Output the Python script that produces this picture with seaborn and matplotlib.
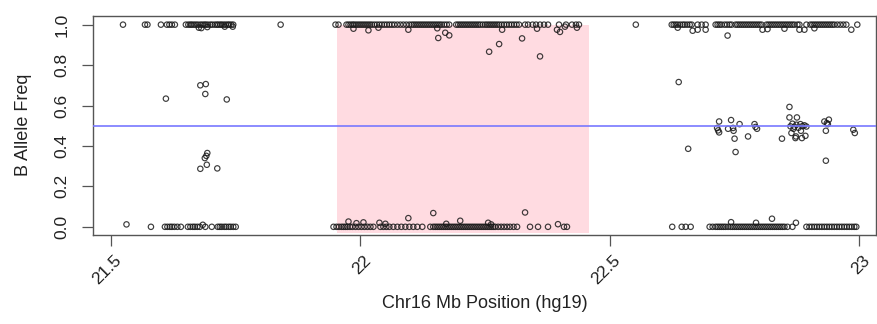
import numpy as np
import pandas as pd
import matplotlib
matplotlib.use("Agg")
import matplotlib.pyplot as plt
import matplotlib.transforms as mtransforms
import seaborn as sns

# positions (Mb) of SNPs with B allele freq = 1
hom_b_pos = [
    21.524, 21.568, 21.573, 21.600, 21.612, 21.617, 21.622, 21.628,
    21.650, 21.655, 21.659, 21.662, 21.666, 21.670, 21.674, 21.679, 21.683,
    21.687, 21.690, 21.694, 21.699, 21.703, 21.708, 21.712, 21.715, 21.719,
    21.722, 21.726, 21.730, 21.734, 21.737, 21.741, 21.745, 21.840,
    21.950, 21.956, 21.972, 21.976, 21.980, 21.984, 21.987, 21.991, 21.995,
    21.999, 22.003, 22.007, 22.011, 22.015, 22.019, 22.023, 22.028, 22.033,
    22.038, 22.043, 22.048, 22.053, 22.058, 22.063, 22.068, 22.074, 22.080,
    22.086, 22.092, 22.098, 22.103, 22.107, 22.111, 22.115, 22.119, 22.123,
    22.127, 22.131, 22.135, 22.139, 22.143, 22.147, 22.151, 22.155, 22.159,
    22.163, 22.168, 22.173, 22.178, 22.192, 22.196, 22.200, 22.204, 22.208,
    22.212, 22.216, 22.220, 22.224, 22.228, 22.232, 22.236, 22.240, 22.245,
    22.250, 22.254, 22.258, 22.262, 22.266, 22.270, 22.274, 22.278, 22.283,
    22.288, 22.293, 22.298, 22.303, 22.308, 22.313, 22.318, 22.330, 22.336,
    22.345, 22.352, 22.360, 22.368, 22.376, 22.398, 22.412, 22.424, 22.432,
    22.438,
    22.552, 22.624, 22.628, 22.632, 22.636, 22.641, 22.646, 22.650, 22.655,
    22.660, 22.664, 22.676, 22.684, 22.692, 22.712, 22.716, 22.720, 22.724,
    22.730, 22.735, 22.740, 22.744, 22.752, 22.756, 22.760, 22.764, 22.768,
    22.772, 22.776, 22.780, 22.784, 22.788, 22.792, 22.796, 22.800, 22.804,
    22.814, 22.818, 22.822, 22.826, 22.830, 22.834, 22.838, 22.842, 22.846,
    22.850, 22.854, 22.858, 22.862, 22.866, 22.870, 22.876, 22.880, 22.894,
    22.902, 22.906, 22.910, 22.914, 22.918, 22.922, 22.926, 22.930, 22.934,
    22.938, 22.942, 22.946, 22.950, 22.956, 22.962, 22.968, 22.974, 22.996,
]

# positions (Mb) of SNPs with B allele freq = 0
hom_a_pos = [
    21.580, 21.608, 21.613, 21.618, 21.622, 21.627, 21.633, 21.640, 21.654,
    21.659, 21.664, 21.668, 21.673, 21.678, 21.689, 21.702, 21.714, 21.718,
    21.722, 21.727, 21.731, 21.736, 21.740, 21.745, 21.750,
    21.946, 21.952, 21.957, 21.962, 21.966, 21.970, 21.974, 21.979, 21.984,
    21.990, 21.996, 22.002, 22.008, 22.014, 22.020, 22.026, 22.040, 22.046,
    22.052, 22.058, 22.066, 22.074, 22.082, 22.090, 22.098, 22.106, 22.114,
    22.124, 22.140, 22.146, 22.150, 22.154, 22.158, 22.162, 22.166, 22.170,
    22.174, 22.178, 22.182, 22.186, 22.190, 22.194, 22.198, 22.202, 22.206,
    22.210, 22.214, 22.218, 22.222, 22.226, 22.230, 22.234, 22.238, 22.242,
    22.246, 22.250, 22.254, 22.258, 22.262, 22.266, 22.270, 22.276, 22.282,
    22.288, 22.294, 22.300, 22.307, 22.314, 22.340, 22.356, 22.376, 22.408,
    22.414,
    22.625, 22.644, 22.652, 22.662, 22.700, 22.706, 22.712, 22.716, 22.720,
    22.724, 22.728, 22.732, 22.737, 22.742, 22.746, 22.750, 22.754, 22.758,
    22.762, 22.766, 22.770, 22.774, 22.778, 22.782, 22.786, 22.790, 22.794,
    22.798, 22.802, 22.806, 22.810, 22.814, 22.818, 22.822, 22.826, 22.830,
    22.834, 22.838, 22.842, 22.846, 22.850, 22.856, 22.866, 22.894, 22.900,
    22.905, 22.910, 22.915, 22.920, 22.925, 22.930, 22.935, 22.940, 22.945,
    22.950, 22.955, 22.960, 22.965, 22.970, 22.975, 22.980, 22.985, 22.990,
    22.994,
]

# all the other SNPs: position (Mb) and B allele freq
other_pos = [
    21.676, 21.681, 21.693, 21.728, 21.744,
    21.986, 22.016, 22.036, 22.096, 22.154, 22.156, 22.170, 22.178, 22.258,
    22.278, 22.284, 22.324, 22.354, 22.360, 22.394, 22.400, 22.410, 22.434,
    22.636, 22.666, 22.676, 22.692, 22.736, 22.806, 22.816, 22.850, 22.880,
    22.890, 22.910, 22.984,
    21.531, 21.684,
    21.976, 21.992, 22.006, 22.038, 22.050, 22.096, 22.146, 22.172, 22.200,
    22.256, 22.262, 22.330, 22.396,
    22.743, 22.793, 22.825, 22.873,
    21.610, 21.679, 21.690, 21.689, 21.732, 21.693, 21.691, 21.688, 21.679,
    21.692, 21.713,
    22.638, 22.657, 22.719, 22.715, 22.717, 22.719, 22.743, 22.737, 22.747,
    22.748, 22.760, 22.750, 22.752, 22.777, 22.790, 22.792, 22.795, 22.860,
    22.860, 22.875, 22.862, 22.866, 22.870, 22.874, 22.878, 22.882, 22.886,
    22.890, 22.894, 22.868, 22.864, 22.873, 22.845, 22.872, 22.885, 22.892,
    22.883, 22.930, 22.935, 22.939, 22.937, 22.933, 22.933, 22.988, 22.991,
]
other_baf = [
    0.985, 0.983, 0.988, 0.990, 0.990,
    0.980, 0.972, 0.985, 0.975, 0.982, 0.934, 0.960, 0.947, 0.866,
    0.904, 0.975, 0.932, 0.980, 0.843, 0.975, 0.964, 0.990, 0.985,
    0.985, 0.970, 0.975, 0.975, 0.946, 0.975, 0.978, 0.980, 0.975,
    0.975, 0.982, 0.975,
    0.012, 0.010,
    0.026, 0.018, 0.022, 0.020, 0.015, 0.043, 0.068, 0.015, 0.030,
    0.020, 0.012, 0.071, 0.013,
    0.023, 0.020, 0.040, 0.020,
    0.634, 0.700, 0.706, 0.657, 0.630, 0.365, 0.351, 0.340, 0.287,
    0.307, 0.289,
    0.716, 0.386, 0.521, 0.489, 0.477, 0.467, 0.528, 0.485, 0.489,
    0.475, 0.508, 0.436, 0.370, 0.447, 0.508, 0.494, 0.485, 0.593,
    0.541, 0.541, 0.497, 0.510, 0.495, 0.505, 0.490, 0.508, 0.498,
    0.502, 0.496, 0.485, 0.464, 0.447, 0.436, 0.439, 0.439, 0.450,
    0.475, 0.521, 0.513, 0.530, 0.508, 0.475, 0.327, 0.480, 0.464,
]

region_start = 21.952
region_end = 22.458
x_ticks = [21.5, 22, 22.5, 23]
x_tick_labels = ["21.5", "22", "22.5", "23"]
y_ticks = [0.0, 0.2, 0.4, 0.6, 0.8, 1.0]

df = pd.DataFrame({
    "pos": hom_b_pos + hom_a_pos + other_pos,
    "baf": [1.0] * len(hom_b_pos) + [0.0] * len(hom_a_pos) + other_baf,
})

sns.set_style("white")
plt.rcParams["font.family"] = ["Liberation Sans", "DejaVu Sans"]

fig = plt.figure(figsize=(8.78, 3.24), dpi=100)
ax = fig.add_axes([0.106, 0.275, 0.892, 0.677])

# highlighted region
ax.fill_between([region_start, region_end], -0.03, 1.0,
                color="#ffdbe1", linewidth=0, zorder=0)

sns.scatterplot(data=df, x="pos", y="baf", ax=ax, s=15,
                facecolor="none", edgecolor="#1a1a1a", linewidth=0.85,
                alpha=0.85, zorder=2)

ax.axhline(0.5, color="#7878ff", linewidth=1.2, zorder=3)

ax.set_xlim(21.464, 23.034)
ax.set_ylim(-0.04, 1.045)

for s in ax.spines.values():
    s.set_color("#555555")
    s.set_linewidth(1.0)

ax.set_yticks(y_ticks)
ax.set_yticklabels([f"{v:.1f}" for v in y_ticks], rotation=90, va="center",
                   fontsize=12.5, color="#222222")
ax.tick_params(axis="y", direction="out", length=8, width=0.9,
               color="#555555", pad=9, left=True)

ax.set_xticks(x_ticks)
ax.set_xticklabels([])
ax.tick_params(axis="x", direction="out", length=8, width=0.9,
               color="#555555", bottom=True)
off = mtransforms.ScaledTranslation(8 / 100, 0, fig.dpi_scale_trans)
for xv, lab in zip(x_ticks, x_tick_labels):
    ax.text(xv, -0.105, lab, rotation=45, ha="right", va="center",
            rotation_mode="anchor", fontsize=12.5, color="#222222",
            transform=ax.get_xaxis_transform() + off, clip_on=False)

ax.set_xlabel("Chr16 Mb Position (hg19)", fontsize=13, color="#222222",
              labelpad=32)
ax.set_ylabel("B Allele Freq", fontsize=13, color="#222222", labelpad=16)

fig.savefig("out.png", dpi=100)
